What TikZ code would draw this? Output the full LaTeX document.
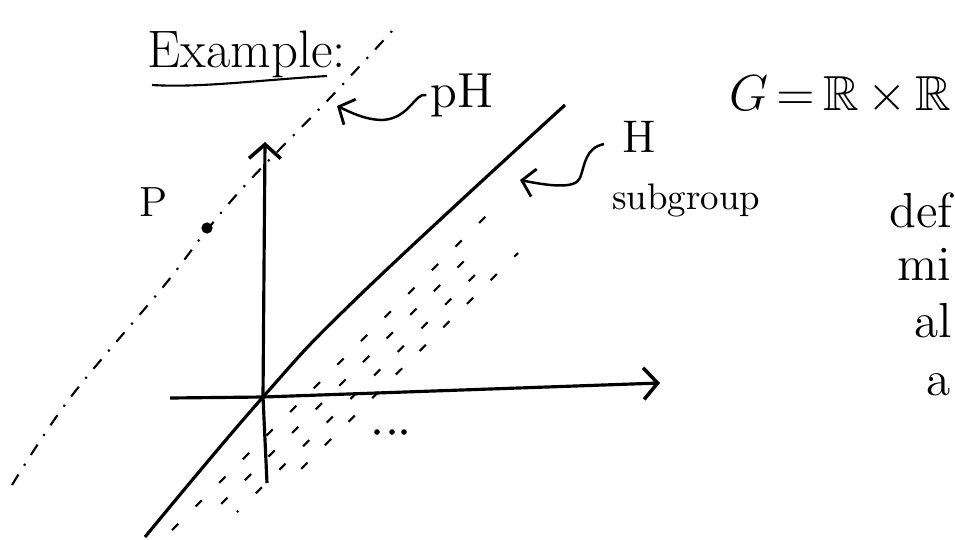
\documentclass[tikz,border=0pt]{standalone}
\usepackage{amsmath,amssymb}
\usepackage{xcolor}
\usetikzlibrary{arrows.meta,positioning}

\begin{document}
\begin{tikzpicture}[
    x=0.01cm, y=-0.01cm,
    txt/.style={inner sep=0pt, font=\fontsize{#1}{#1}\selectfont},
    txt/.default=15,
    axis/.style={line width=0.9pt, -{Straight Barb[length=4pt, width=9pt, line width=1pt]}},
    squiggle/.style={line width=0.7pt, -{Straight Barb[length=3.5pt, width=8pt, line width=0.8pt]}},
    hatch/.style={line width=0.6pt, dash pattern=on 2.5pt off 7pt},
    coset/.style={line width=0.6pt, dash pattern=on 3.5pt off 3pt on 0.6pt off 3pt},
    node distance=0.2cm
]
\useasboundingbox (0,0) rectangle (955,539);

\node[txt, anchor=base west] (ex) at (147,67) {Example:};
\draw[line width=0.6pt] (152,85) .. controls (200,88) and (260,80) .. (327,76);

\coordinate (o) at (263,397);
\coordinate (xl) at (170,398);
\coordinate (xr) at (660,383);
\coordinate (yb) at (267,483);
\coordinate (yt) at (265,142);
\draw[axis] (xl) -- (o) -- (xr);
\draw[axis] (yb) -- (o) -- (yt);

\draw[line width=0.9pt] plot[smooth, tension=0.7] coordinates {(145,537) (263,397) (360,295) (565,105)};

\foreach \xa/\ya/\xb/\yb/\ph in {172/530/490/212/0, 210/515/475/250/5, 237/512/485/265/2, 295/475/518/253/7}
    \draw[hatch, dash phase=\ph pt] (\xa,\ya) -- (\xb,\yb);
\foreach \x in {377,392,404}
    \fill (\x,432) circle (0.8pt);

\draw[coset] plot[smooth, tension=0.6] coordinates {(12,485) (70,398) (163,287) (207,230) (250,180) (328,100) (393,30)};
\node[circle, fill, inner sep=0pt, minimum size=3.2pt] (p) at (207,228) {};
\node[txt=12, above left=0.06cm and 0.34cm of p] (plbl) {P};

\node[txt=14] (phlbl) at (462,95) {pH};
\coordinate (phtip) at (337,106);
\draw[squiggle] ([xshift=-1pt]phlbl.west) .. controls (415,92) and (410,118) .. (383,120) .. controls (365,120) and (350,112) .. (phtip);

\node[txt=13] (hlbl) at (639,137) {H};
\node[txt=10.5, below right=0.3cm and -0.1cm of hlbl.south west] (sub) {subgroup};
\coordinate (htip) at (520,180);
\draw[squiggle] ([xshift=-5pt, yshift=-2pt]hlbl.west) .. controls (585,148) and (585,165) .. (580,178) .. controls (575,190) and (545,185) .. (htip);

\node[txt=14, anchor=east] (grp) at (952,95) {${G}\,{=}\,{\mathbb{R}}\,{\times}\,{\mathbb{R}}$};

\node[txt=14, anchor=base west] (w1) at (889,227) {def};
\node[txt=14, anchor=base west] (w2) at (897,280) {mi};
\node[txt=14, anchor=base west] (w3) at (914,337) {al};
\node[txt=14, anchor=base west] (w4) at (926,395) {a};
\end{tikzpicture}
\end{document}
